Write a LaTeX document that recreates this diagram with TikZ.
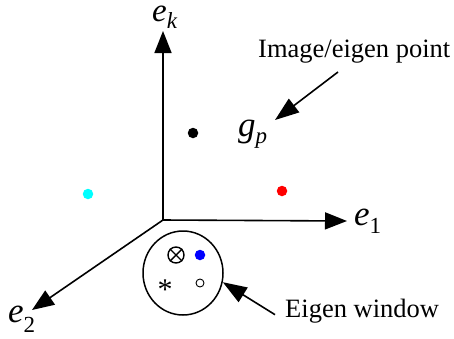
\documentclass[tikz,border=0pt]{standalone}
\usepackage{fontspec}
\setmainfont{Liberation Serif}
\usepackage{tikz}
\usetikzlibrary{arrows.meta}
\usetikzlibrary{shapes.geometric}
\definecolor{ptcyan}{RGB}{0,255,255}
\definecolor{ptred}{RGB}{255,0,0}
\definecolor{ptblue}{RGB}{0,0,255}

% italic symbol with a lowered subscript
\newcommand{\axlbl}[3][8pt]{\textit{#2}\raisebox{-#1}{\fontsize{23}{25}\selectfont #3}}

\begin{document}
\begin{tikzpicture}[x=1pt,y=-1pt,
    axis/.style={line width=1.6pt, -{Triangle[length=22pt,width=17pt]}},
    pointer/.style={line width=1.6pt, -{Triangle[length=24pt,width=17pt]}},
    dot/.style={circle, fill, inner sep=0pt, minimum size=10.5pt},
    lbl/.style={font=\fontsize{26.5}{30}\selectfont, inner sep=0pt, anchor=base west},
    mlbl/.style={font=\fontsize{35}{38}\selectfont, inner sep=0pt, anchor=base west}]
      \useasboundingbox (0,0) rectangle (454,338);
      % axes
      \coordinate (O) at (163,220);
      \coordinate (ek) at (163,31);
      \coordinate (e1) at (347,221);
      \coordinate (e2) at (32,310);
      \draw[axis] (O) -- (ek);
      \draw[axis] (O) -- (e1);
      \draw[axis] (O) -- (e2);
      \node[mlbl, font=\fontsize{33}{36}\selectfont] (eklbl) at (152,21) {\axlbl[7pt]{e}{\textit{k}}};
      \node[mlbl] (e1lbl) at (354,225) {\axlbl{e}{1}};
      \node[mlbl] (e2lbl) at (8,322) {\axlbl[10pt]{e}{2}};

      % points
      \node[dot, black] (gp) at (193,133) {};
      \node[dot, ptred] (pr) at (282,191) {};
      \node[dot, ptcyan] (pc) at (88,194) {};
      \node[mlbl] (gplbl) at (238,136) {\axlbl[7pt]{g}{\textit{p}}};

      % eigen window
      \node[draw, ellipse, line width=1.5pt, minimum width=80pt, minimum height=84pt] (win) at (183,273) {};
      \node[draw, circle, line width=1.4pt, inner sep=0pt, minimum size=16pt] (otim) at (176,255) {};
      \draw[line width=1.4pt] (otim.45) -- (otim.225) (otim.135) -- (otim.-45);
      \node[dot, ptblue] (pb) at (200,255) {};
      \node[font=\fontsize{30}{30}\selectfont, inner sep=0pt, anchor=base] (ast) at (165,299) {*};
      \node[draw, circle, line width=0.9pt, inner sep=0pt, minimum size=8pt] (ring) at (200,283) {};

      % captions
      \node[lbl] (imglbl) at (258,57) {Image/eigen point};
      \node[lbl] (winlbl) at (285,317) {Eigen window};
      \coordinate (imgtail) at (338,72);
      \coordinate (gptip) at (275,120);
      \draw[pointer] (imgtail) -- (gptip);
      \draw[pointer] ([xshift=-10pt,yshift=-4pt]winlbl.west) -- (win.-13);
\end{tikzpicture}
\end{document}
